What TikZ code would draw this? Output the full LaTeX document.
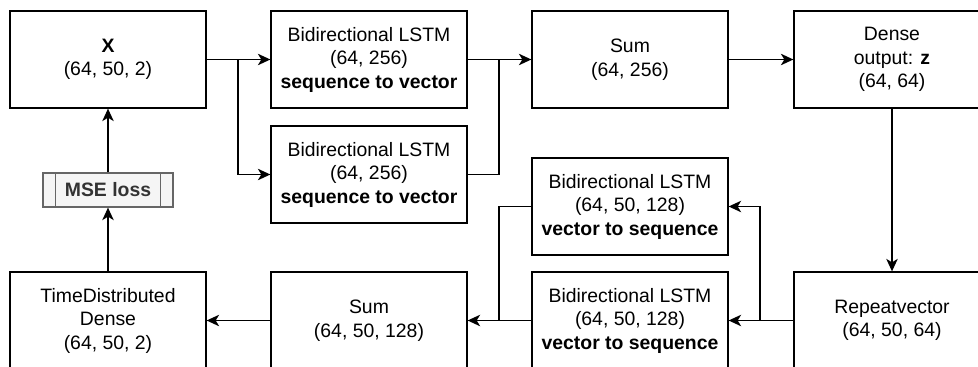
\documentclass[tikz,border=0pt]{standalone}
\usepackage{fontspec}
\setmainfont{Liberation Sans}
\usetikzlibrary{arrows.meta,calc}
\definecolor{lossfill}{HTML}{F5F5F5}
\definecolor{lossdraw}{HTML}{666666}
\definecolor{losstext}{HTML}{333333}
\begin{document}
\begin{tikzpicture}[x=1pt,y=-1pt,
  blk/.style={draw=black,line width=1.3pt,fill=white,minimum width=196pt,minimum height=97pt,
    inner sep=0pt,align=center,font=\fontsize{19.4}{23.5}\selectfont},
  lossbox/.style={draw=lossdraw,line width=1.3pt,fill=lossfill,minimum width=130pt,minimum height=34pt,
    inner sep=0pt,text=losstext,font=\fontsize{19.4}{23.5}\selectfont\bfseries},
  conn/.style={line width=1.3pt,draw=black},
  arr/.style={conn,-{Stealth[length=12.5pt,width=11.5pt,inset=3.5pt]}}]
\useasboundingbox (0,0) rectangle (978,367);
\node[blk] (x) at (108,59.5) {\textbf{X}\\(64, 50, 2)};
\node[blk] (b1) at (369,59.5) {Bidirectional LSTM\\(64, 256)\\\textbf{sequence to vector}};
\node[blk] (b2) at (369,174.5) {Bidirectional LSTM\\(64, 256)\\\textbf{sequence to vector}};
\node[blk] (s1) at (630,59.5) {Sum\\(64, 256)};
\node[blk] (d) at (892,59.5) {Dense\\output: \textbf{z}\\(64, 64)};
\node[blk] (b3) at (630,206.5) {Bidirectional LSTM\\(64, 50, 128)\\\textbf{vector to sequence}};
\node[blk] (b4) at (630,320.5) {Bidirectional LSTM\\(64, 50, 128)\\\textbf{vector to sequence}};
\node[blk] (r) at (892,320.5) {Repeatvector\\(64, 50, 64)};
\node[blk] (s2) at (369,320.5) {Sum\\(64, 50, 128)};
\node[blk] (td) at (108,320.5) {TimeDistributed\\Dense\\(64, 50, 2)};
\node[lossbox] (mse) at (108,190) {MSE loss};
\draw[draw=lossdraw,line width=1.3pt] ($(mse.north west)+(13,0)$) -- ($(mse.south west)+(13,0)$);
\draw[draw=lossdraw,line width=1.3pt] ($(mse.north east)+(-13,0)$) -- ($(mse.south east)+(-13,0)$);
\coordinate (j1) at (238,59.5);
\coordinate (j2) at (499,59.5);
\coordinate (j3) at (760,320.5);
\coordinate (j4) at (499,320.5);
\draw[arr] (x.east) -- (b1.west);
\draw[arr] (j1) |- (b2.west);
\draw[arr] (b1.east) -- (s1.west);
\draw[conn] (b2.east) -| (j2);
\draw[arr] (s1.east) -- (d.west);
\draw[arr] (d.south) -- (r.north);
\draw[arr] (r.west) -- (b4.east);
\draw[arr] (j3) |- (b3.east);
\draw[arr] (b4.west) -- (s2.east);
\draw[conn] (b3.west) -| (j4);
\draw[arr] (s2.west) -- (td.east);
\draw[arr] (td.north) -- (mse.south);
\draw[arr] (mse.north) -- (x.south);
\end{tikzpicture}
\end{document}
